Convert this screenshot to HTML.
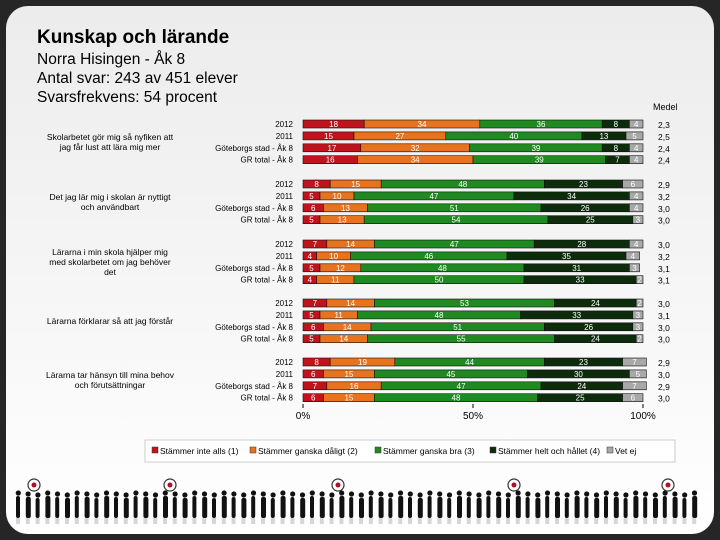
<!DOCTYPE html>
<html><head><meta charset="utf-8"><style>
body{margin:0;background:#262626;width:720px;height:540px;overflow:hidden;font-family:"Liberation Sans",sans-serif}
#card{position:absolute;left:6px;top:6px;width:708px;height:528px;border-radius:22px;background:linear-gradient(#ececec,#f7f7f7 60%,#fff)}
svg{position:absolute;left:0;top:0}
</style></head><body>
<div id="card"></div>
<svg id="c" width="720" height="540">
<text x="37" y="43" font-size="19" font-weight="bold" fill="#000">Kunskap och lärande</text>
<text x="37" y="64" font-size="15.5" fill="#000">Norra Hisingen - Åk 8</text>
<text x="37" y="83" font-size="15.5" fill="#000">Antal svar: 243 av 451 elever</text>
<text x="37" y="102" font-size="15.5" fill="#000">Svarsfrekvens: 54 procent</text>
<text x="653" y="110" font-size="9" fill="#000">Medel</text>
</svg>
<script>
const questions=[["Skolarbetet gör mig så nyfiken att","jag får lust att lära mig mer"],["Det jag lär mig i skolan är nyttigt","och användbart"],["Lärarna i min skola hjälper mig","med skolarbetet om jag behöver","det"],["Lärarna förklarar så att jag förstår"],["Lärarna tar hänsyn till mina behov","och förutsättningar"]];
const rowLabels=["2012","2011","Göteborgs stad - Åk 8","GR total - Åk 8"];
const g1=[[18,34,36,8,4],[15,27,40,13,5],[17,32,39,8,4],[16,34,39,7,4]];
const g2=[[8,15,48,23,6],[5,10,47,34,4],[6,13,51,26,4],[5,13,54,25,3]];
const g3=[[7,14,47,28,4],[4,10,46,35,4],[5,12,48,31,3],[4,11,50,33,2]];
const g4=[[7,14,53,24,2],[5,11,48,33,3],[6,14,51,26,3],[5,14,55,24,2]];
const g5=[[8,19,44,23,7],[6,15,45,30,5],[7,16,47,24,7],[6,15,48,25,6]];
const medel=[["2,3","2,5","2,4","2,4"],["2,9","3,2","3,0","3,0"],["3,0","3,2","3,1","3,1"],["3,0","3,1","3,0","3,0"],["2,9","3,0","2,9","3,0"]];
const series=["Stämmer inte alls (1)","Stämmer ganska dåligt (2)","Stämmer ganska bra (3)","Stämmer helt och hållet (4)","Vet ej"];
const ticks=[0,50,100];
const colors=["#c0141c","#e8731f","#1f8a1f","#0c2c0c","#a8a8a8"];
const groups=[g1,g2,g3,g4,g5];
const NS="http://www.w3.org/2000/svg",svg=document.getElementById('c');
const X0=303,X1=643,xs=v=>X0+(X1-X0)*v/100;
const groupTop=[124,184,244,303,362],rowStep=11.9,bh=8;
function mk(t,a,txt){const e=document.createElementNS(NS,t);for(const k in a)e.setAttribute(k,a[k]);if(txt!=null)e.textContent=txt;svg.appendChild(e);return e;}
groups.forEach((g,gi)=>{
  const q=questions[gi],cy=groupTop[gi]+rowStep*1.5;
  q.forEach((l,li)=>{const t=mk('text',{x:110,y:cy-(q.length-1)*5+li*10+3,'font-size':8.5,'text-anchor':'middle',fill:'#000'},l);
    
    });
  g.forEach((row,ri)=>{
    const y=groupTop[gi]+ri*rowStep;
    const lab=mk('text',{x:293,y:y+3,'font-size':8,'text-anchor':'end',fill:'#000'},rowLabels[ri]);
    
    
    let acc=0;
    row.forEach((v,si)=>{
      const r=mk('rect',{x:xs(acc),y:y-bh/2,width:xs(acc+v)-xs(acc),height:bh,fill:colors[si],stroke:'#111','stroke-width':0.6});
      
      
      const t=mk('text',{x:(xs(acc)+xs(acc+v))/2,y:y+3,'font-size':8,'text-anchor':'middle',fill:'#fff'},v);
      
      
      acc+=v;});
    const m=mk('text',{x:658,y:y+4,'font-size':8.5,fill:'#000'},medel[gi][ri]);
    
    
  });
});
ticks.forEach(t=>{const x=xs(t);
  mk('line',{x1:x,x2:x,y1:404,y2:408,stroke:'#000'});
  const e=mk('text',{x:x,y:419,'font-size':10,'text-anchor':'middle',fill:'#000'},t+'%');
  
  });
const lb=mk('rect',{x:145,y:440,width:530,height:22,fill:'#fff',stroke:'#ccc'});


const lx=[160,258,383,498,615];
series.forEach((s,i)=>{
  const sw=mk('rect',{x:lx[i]-8,y:447,width:6,height:6,fill:colors[i],stroke:'#333','stroke-width':0.5});
  
  
  const t=mk('text',{x:lx[i],y:454,'font-size':8.5,fill:'#000'},s);
  
  });
// silhouettes band
for(let i=0;i<70;i++){const x=16+i*9.8;
  const p=mk('rect',{x:x,y:496+(i%3),width:4+(i%2),height:22-(i%3),rx:2,fill:'#111'});
  
  
  mk('circle',{cx:x+2.3,cy:493+(i%3),r:2.6,fill:'#111'});
  mk('rect',{x:x,y:518,width:4,height:6,fill:'#bbb',opacity:0.6});}
[34,170,338,514,668].forEach(x=>{
  const c=mk('circle',{cx:x,cy:485,r:6,fill:'#fff',stroke:'#333','stroke-width':1.2});
  
  
  mk('circle',{cx:x,cy:485,r:2.5,fill:'#b01020'});});
</script>
</body></html>
